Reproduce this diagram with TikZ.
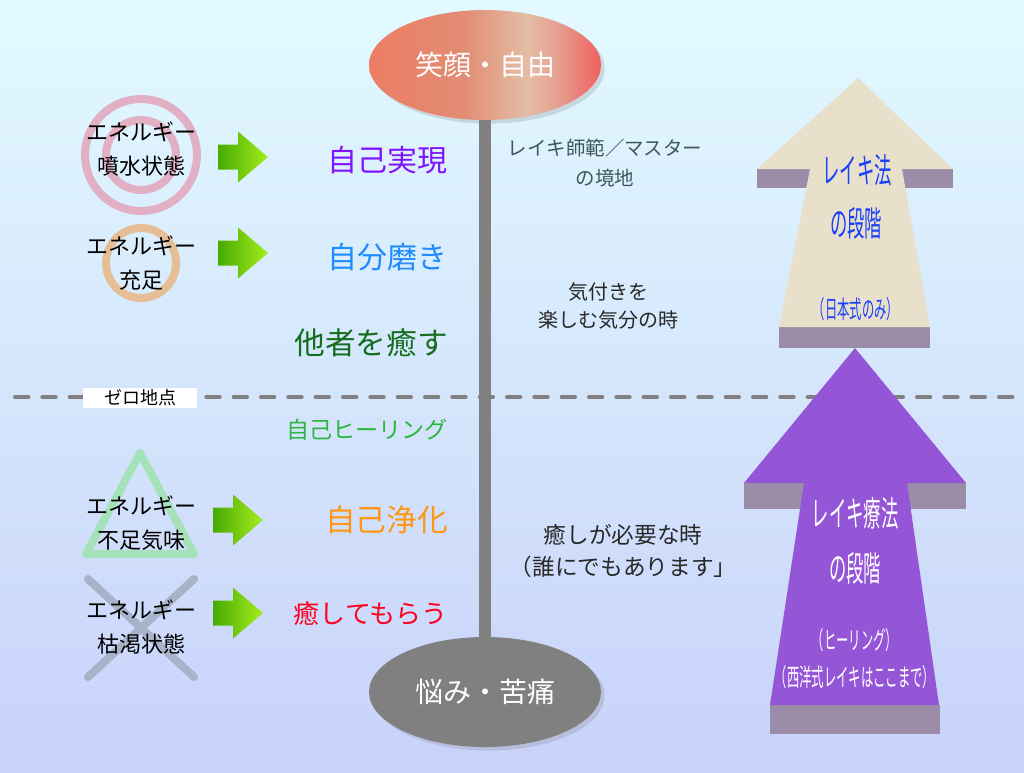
\documentclass[tikz,border=0pt]{standalone}
\usepackage{fontspec}
\setmainfont{Noto Sans CJK JP}
\newfontfamily\narrowjp[FakeStretch=0.5]{Noto Sans CJK JP}
\usetikzlibrary{shapes.geometric,shadows}
\definecolor{bgTop}{RGB}{226,250,255}
\definecolor{bgMid}{RGB}{203,234,250}
\definecolor{bgBot}{RGB}{200,210,250}
\definecolor{salA}{RGB}{237,125,100}
\definecolor{salB}{RGB}{226,140,115}
\definecolor{salC}{RGB}{228,188,165}
\definecolor{salD}{RGB}{231,158,143}
\definecolor{salE}{RGB}{240,95,95}
\definecolor{barGray}{RGB}{128,128,128}
\definecolor{ringPink}{RGB}{226,176,196}
\definecolor{ringOrange}{RGB}{230,190,150}
\definecolor{triGreen}{RGB}{165,226,185}
\definecolor{crossGray}{RGB}{168,178,200}
\definecolor{arrowDark}{RGB}{70,170,0}
\definecolor{arrowLight}{RGB}{165,238,30}
\definecolor{beige}{RGB}{233,224,204}
\definecolor{violet}{RGB}{148,85,215}
\definecolor{band}{RGB}{155,140,168}
\definecolor{lawBlue}{RGB}{25,65,250}
\definecolor{noteTeal}{RGB}{60,88,88}
\definecolor{noteDark}{RGB}{40,40,40}
\definecolor{selfReal}{RGB}{128,20,255}
\definecolor{selfPolish}{RGB}{30,140,255}
\definecolor{healOthers}{RGB}{20,110,30}
\definecolor{selfHeal}{RGB}{45,180,65}
\definecolor{selfClean}{RGB}{255,150,20}
\definecolor{beHealed}{RGB}{255,0,30}
\pgfdeclarehorizontalshading{smileshade}{100bp}{color(0bp)=(salA); color(25bp)=(salA);
  color(45bp)=(salB); color(59bp)=(salC); color(66bp)=(salD); color(75bp)=(salE); color(100bp)=(salE)}
\begin{document}
\begin{tikzpicture}[x=0.75pt,y=-0.75pt,
  pole/.style={ellipse, minimum width=174pt, minimum height=82.5pt, inner sep=0pt,
    text=white, font=\fontsize{21}{24}\selectfont, drop shadow={opacity=0.25}},
  energy/.style={inner sep=0pt, align=center, font=\fontsize{16.5}{26}\selectfont},
  stage/.style={inner sep=0pt, anchor=east, font=\fontsize{22.5}{26}\selectfont},
  note/.style={inner sep=0pt, align=center},
  blockarrow/.style={left color=arrowDark, right color=arrowLight},
  law/.style={inner sep=0pt, font=\narrowjp\fontsize{26}{28}\selectfont},
  lawsmall/.style={inner sep=0pt, font=\narrowjp\fontsize{18.5}{20}\selectfont}]
\useasboundingbox (0,0) rectangle (1024,772);
\shade[top color=bgTop, middle color=bgMid, bottom color=bgBot] (0,0) rectangle (1024,772);

% zero line
\draw[barGray, line width=3pt, line cap=round, dash pattern=on 10pt off 10.5pt] (15,397) -- (1015,397);
\node[fill=white, inner sep=0pt, minimum width=85pt, minimum height=15pt,
  font=\fontsize{13.5}{16}\selectfont] (zero) at (140,398) {ゼロ地点};

% poles and the bar between them
\node[pole, shading=smileshade] (smile) at (485,65) {笑顔・自由};
\node[pole, fill=barGray] (pain) at (485,692) {悩み・苦痛};
\draw[barGray, line width=9pt] (smile.south) -- (pain.north);

% energy marks
\draw[ringPink, line width=6pt] (141,155) circle (56) (141,155) circle (35);
\draw[ringOrange, line width=6pt] (141,263) circle (35);
\draw[triGreen, line width=6pt, line join=round] (140,453) -- (194,554) -- (86,554) -- cycle;
\draw[crossGray, line width=6pt, line cap=round] (88,579) -- (194,677) (194,579) -- (88,677);

\node[energy] (fountain) at (141,149) {エネルギー\\噴水状態};
\node[energy] (full) at (141,263) {エネルギー\\充足};
\node[energy] (short) at (141,523) {エネルギー\\不足気味};
\node[energy] (empty) at (141,627) {エネルギー\\枯渇状態};

% green block arrows
\foreach \x/\y in {218/157, 218/253, 213/520, 213/613}
  \shade[blockarrow] (\x,\y-12.5) -- (\x+20,\y-12.5) -- (\x+20,\y-25.5) -- (\x+50,\y)
    -- (\x+20,\y+25.5) -- (\x+20,\y+12.5) -- (\x,\y+12.5) -- cycle;

% stages
\node[stage, text=selfReal] (realize) at (448,160) {自己実現};
\node[stage, text=selfPolish] (polish) at (448,257) {自分磨き};
\node[stage, text=healOthers, font=\fontsize{23}{26}\selectfont] (others) at (448,343) {他者を癒す};
\node[stage, text=selfHeal, font=\fontsize{17.3}{20}\selectfont] (selfheal) at (448,430) {自己ヒーリング};
\node[stage, text=selfClean, font=\fontsize{23}{26}\selectfont] (clean) at (448,520) {自己浄化};
\node[stage, text=beHealed, font=\fontsize{19.5}{22}\selectfont] (healed) at (448,614) {癒してもらう};

% notes
\node[note, text=noteTeal, font=\fontsize{14.6}{23}\selectfont] (master) at (605,163)
  {レイキ師範／マスター\\の境地};
\node[note, text=noteDark, font=\fontsize{15}{21}\selectfont] (enjoy) at (608,306)
  {気付きを\\楽しむ気分の時};
\node[note, text=noteDark, font=\fontsize{17}{24}\selectfont] (need) at (623,551)
  {癒しが必要な時\\（誰にでもあります」};

% upper arrow
\fill[band] (757,169) rectangle (953,188);
\fill[band] (779,327) rectangle (930,348);
\fill[beige] (858,78) -- (953,169) -- (902,169) -- (930,327) -- (779,327) -- (810,169)
  -- (757,169) -- cycle;
\node[law, text=lawBlue] (lawA) at (857,170) {レイキ法};
\node[law, text=lawBlue] (lawB) at (856,223) {の段階};
\node[lawsmall, text=lawBlue] (lawC) at (856,309) {（日本式のみ）};

% lower arrow
\fill[band] (744,483) rectangle (966,509);
\fill[band] (770,705) rectangle (940,734);
\fill[violet] (855,348) -- (966,483) -- (907,483) -- (939,705) -- (770,705) -- (804,483)
  -- (744,483) -- cycle;
\node[law, text=white] (cureA) at (855,513) {レイキ療法};
\node[law, text=white] (cureB) at (855,568) {の段階};
\node[lawsmall, text=white] (cureC) at (855,640) {（ヒーリング）};
\node[lawsmall, text=white] (cureD) at (855,677) {（西洋式レイキはここまで）};
\end{tikzpicture}
\end{document}
